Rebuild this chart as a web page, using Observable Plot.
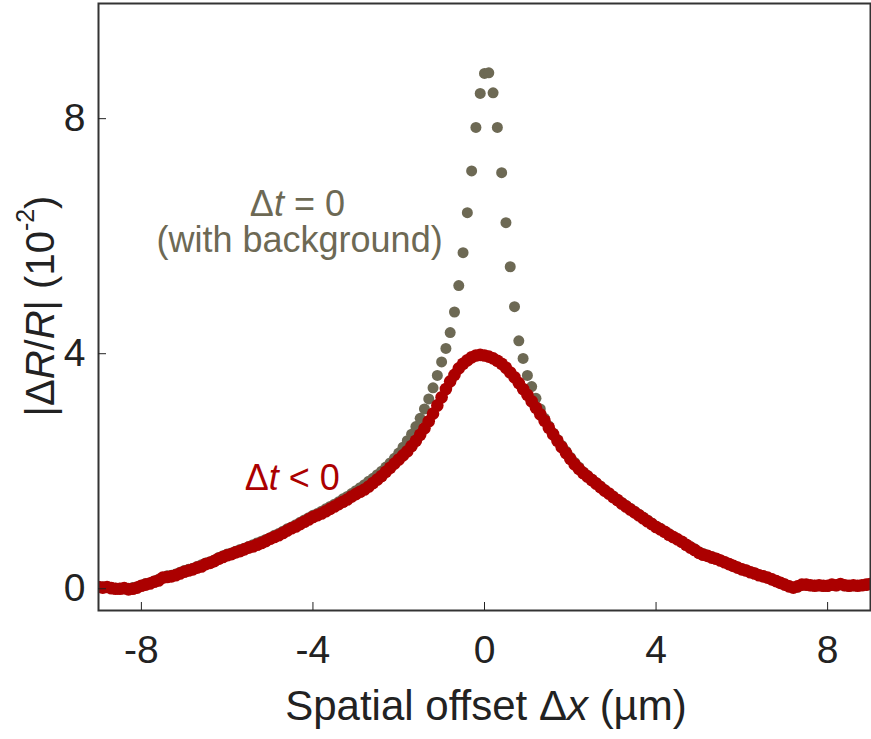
<!DOCTYPE html>
<html><head><meta charset="utf-8">
<script src="https://cdn.jsdelivr.net/npm/d3@7"></script>
<script src="https://cdn.jsdelivr.net/npm/@observablehq/plot@0.6"></script>
<style>body{margin:0;background:#fff} svg{display:block}</style>
</head><body><div id="chart"></div>
<script>
// Spatial offset Δx (µm), sampled every 0.1 µm
const offsets = [
-9.0,-8.9,-8.8,-8.7,-8.6,-8.5,-8.4,-8.3,-8.2,-8.1,
-8.0,-7.9,-7.8,-7.7,-7.6,-7.5,-7.4,-7.3,-7.2,-7.1,
-7.0,-6.9,-6.8,-6.7,-6.6,-6.5,-6.4,-6.3,-6.2,-6.1,
-6.0,-5.9,-5.8,-5.7,-5.6,-5.5,-5.4,-5.3,-5.2,-5.1,
-5.0,-4.9,-4.8,-4.7,-4.6,-4.5,-4.4,-4.3,-4.2,-4.1,
-4.0,-3.9,-3.8,-3.7,-3.6,-3.5,-3.4,-3.3,-3.2,-3.1,
-3.0,-2.9,-2.8,-2.7,-2.6,-2.5,-2.4,-2.3,-2.2,-2.1,
-2.0,-1.9,-1.8,-1.7,-1.6,-1.5,-1.4,-1.3,-1.2,-1.1,
-1.0,-0.9,-0.8,-0.7,-0.6,-0.5,-0.4,-0.3,-0.2,-0.1,
0.0,0.1,0.2,0.3,0.4,0.5,0.6,0.7,0.8,0.9,
1.0,1.1,1.2,1.3,1.4,1.5,1.6,1.7,1.8,1.9,
2.0,2.1,2.2,2.3,2.4,2.5,2.6,2.7,2.8,2.9,
3.0,3.1,3.2,3.3,3.4,3.5,3.6,3.7,3.8,3.9,
4.0,4.1,4.2,4.3,4.4,4.5,4.6,4.7,4.8,4.9,
5.0,5.1,5.2,5.3,5.4,5.5,5.6,5.7,5.8,5.9,
6.0,6.1,6.2,6.3,6.4,6.5,6.6,6.7,6.8,6.9,
7.0,7.1,7.2,7.3,7.4,7.5,7.6,7.7,7.8,7.9,
8.0,8.1,8.2,8.3,8.4,8.5,8.6,8.7,8.8,8.9,
9.0];

// |ΔR/R| (10^-2), Δt < 0 (red)
const redValues = [
0.03,0.02,0.03,0.01,0.00,0.00,0.01,-0.01,0.00,0.02,
0.05,0.07,0.09,0.12,0.14,0.19,0.20,0.21,0.23,0.26,
0.29,0.31,0.33,0.36,0.38,0.42,0.44,0.47,0.51,0.54,
0.57,0.59,0.62,0.64,0.67,0.70,0.72,0.75,0.78,0.81,
0.85,0.88,0.91,0.95,0.99,1.03,1.06,1.10,1.14,1.18,
1.22,1.25,1.28,1.32,1.36,1.40,1.44,1.48,1.52,1.57,
1.61,1.65,1.69,1.74,1.80,1.86,1.92,1.99,2.06,2.13,
2.20,2.27,2.34,2.43,2.52,2.62,2.73,2.85,2.98,3.12,
3.26,3.40,3.53,3.64,3.75,3.83,3.89,3.94,3.97,3.98,
3.97,3.95,3.92,3.88,3.83,3.76,3.68,3.60,3.50,3.40,
3.30,3.19,3.08,2.97,2.86,2.74,2.63,2.52,2.41,2.31,
2.21,2.12,2.04,1.97,1.91,1.85,1.79,1.73,1.67,1.62,
1.56,1.51,1.45,1.40,1.35,1.30,1.25,1.20,1.15,1.10,
1.05,1.01,0.97,0.92,0.88,0.84,0.80,0.75,0.70,0.66,
0.61,0.58,0.56,0.53,0.51,0.48,0.45,0.42,0.39,0.36,
0.33,0.31,0.28,0.26,0.23,0.21,0.19,0.16,0.13,0.10,
0.07,0.04,0.02,0.04,0.07,0.07,0.06,0.05,0.06,0.05,
0.05,0.07,0.06,0.08,0.06,0.05,0.06,0.05,0.06,0.07,
0.08];

// |ΔR/R| (10^-2), Δt = 0 with background (grey)
const greyValues = [
0.04,0.03,0.02,0.02,0.01,0.01,0.00,0.01,0.02,0.03,
0.06,0.09,0.10,0.13,0.16,0.19,0.22,0.23,0.25,0.28,
0.31,0.33,0.35,0.38,0.41,0.44,0.46,0.49,0.53,0.56,
0.59,0.61,0.64,0.67,0.69,0.72,0.75,0.78,0.81,0.84,
0.87,0.91,0.94,0.98,1.02,1.05,1.09,1.13,1.17,1.21,
1.25,1.28,1.32,1.36,1.40,1.44,1.48,1.53,1.57,1.62,
1.67,1.72,1.77,1.83,1.88,1.94,2.00,2.07,2.14,2.22,
2.31,2.41,2.52,2.63,2.76,2.90,3.06,3.23,3.42,3.63,
3.86,4.09,4.36,4.71,5.16,5.72,6.40,7.11,7.85,8.43,
8.77,8.78,8.44,7.85,7.08,6.23,5.48,4.80,4.22,3.92,
3.63,3.44,3.24,3.06,2.90,2.77,2.65,2.54,2.44,2.34,
2.24,2.15,2.07,1.99,1.93,1.87,1.81,1.75,1.69,1.63,
1.58,1.52,1.47,1.42,1.37,1.32,1.27,1.22,1.17,1.12,
1.07,1.03,0.98,0.94,0.89,0.85,0.81,0.76,0.72,0.68,
0.63,0.60,0.57,0.55,0.52,0.49,0.46,0.43,0.40,0.37,
0.34,0.32,0.29,0.27,0.24,0.22,0.19,0.17,0.14,0.11,
0.08,0.05,0.02,0.03,0.06,0.06,0.05,0.06,0.05,0.04,
0.04,0.06,0.05,0.07,0.05,0.04,0.05,0.05,0.06,0.06,
0.07];

const xTicks = [-8, -4, 0, 4, 8];
const yTicks = [0, 4, 8];
const xDomain = [-9, 9];
const yDomain = [-0.37, 9.96];

const greyColor = "#6d6954";
const redColor = "#ab0000";

const redData = offsets.map((x, i) => ({x, y: redValues[i]}));
const greyData = offsets.map((x, i) => ({x, y: greyValues[i]}));

const plot = Plot.plot({
  width: 871, height: 739,
  marginLeft: 98, marginRight: 1, marginTop: 3, marginBottom: 129,
  style: {fontFamily: "'Liberation Sans', Arial, sans-serif", fontSize: "39px", color: "#222", background: "#fff"},
  x: {domain: xDomain},
  y: {domain: yDomain},
  marks: [
    Plot.dot(greyData, {x: "x", y: "y", r: 5.5, fill: greyColor, clip: true}),
    Plot.dot(redData, {x: "x", y: "y", r: 6.3, fill: redColor, clip: true}),
    Plot.frame({stroke: "#333", strokeWidth: 2}),
    Plot.axisX({ticks: xTicks, tickSize: -8, tickPadding: 33, label: null, tickFormat: d => String(d), fontSize: 39}),
    Plot.axisY({ticks: yTicks, tickSize: -8, tickPadding: 21, label: null, tickFormat: d => String(d), fontSize: 39})
  ]
});
document.getElementById("chart").appendChild(plot);

const svg = d3.select(plot);
const sx = plot.scale("x"), sy = plot.scale("y");
const ff = "'Liberation Sans', Arial, sans-serif";

// y-axis title
const yl = svg.append("text")
  .attr("transform", "translate(40,306) rotate(-90)")
  .attr("text-anchor", "middle").attr("dominant-baseline", "central")
  .attr("font-family", ff).attr("font-size", 40).attr("fill", "#222");
yl.append("tspan").text("|Δ");
yl.append("tspan").attr("font-style", "italic").text("R");
yl.append("tspan").text("/");
yl.append("tspan").attr("font-style", "italic").text("R");
yl.append("tspan").text("| (10");
yl.append("tspan").attr("font-size", 25).attr("dy", -15).text("-2");
yl.append("tspan").attr("dy", 15).text(")");

// x-axis title
const xl = svg.append("text")
  .attr("x", 486).attr("y", 720).attr("text-anchor", "middle")
  .attr("font-family", ff).attr("font-size", 42).attr("fill", "#222");
xl.append("tspan").text("Spatial offset Δ");
xl.append("tspan").attr("font-style", "italic").text("x");
xl.append("tspan").text(" (µm)");

// annotations
const a1 = svg.append("text").attr("x", sx.apply(-4.35)).attr("y", sy.apply(6.34))
  .attr("text-anchor", "middle").attr("font-family", ff).attr("font-size", 36).attr("fill", greyColor);
a1.append("tspan").text("Δ");
a1.append("tspan").attr("font-style", "italic").text("t");
a1.append("tspan").text(" = 0");
svg.append("text").attr("x", sx.apply(-4.3)).attr("y", sy.apply(5.72))
  .attr("text-anchor", "middle").attr("font-family", ff).attr("font-size", 36).attr("fill", greyColor)
  .text("(with background)");
const a2 = svg.append("text").attr("x", sx.apply(-4.47)).attr("y", sy.apply(1.67))
  .attr("text-anchor", "middle").attr("font-family", ff).attr("font-size", 36).attr("fill", redColor);
a2.append("tspan").text("Δ");
a2.append("tspan").attr("font-style", "italic").text("t");
a2.append("tspan").text(" < 0");
</script>
</body></html>
